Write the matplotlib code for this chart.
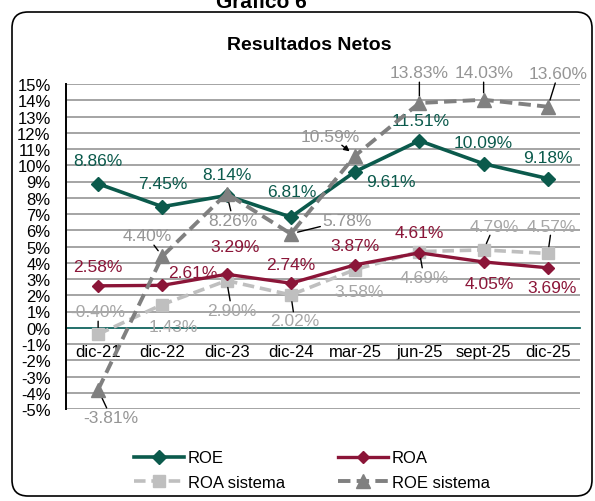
import matplotlib
matplotlib.use("Agg")
import matplotlib.pyplot as plt
import matplotlib.patches as mpatches
from matplotlib.transforms import IdentityTransform

plt.rcParams['font.family'] = ['Liberation Sans', 'DejaVu Sans']
plt.rcParams['axes.unicode_minus'] = False

# ---- data ----
categories = ["dic-21", "dic-22", "dic-23", "dic-24", "mar-25", "jun-25", "sept-25", "dic-25"]
roe = [8.86, 7.45, 8.14, 6.81, 9.61, 11.51, 10.09, 9.18]
roa = [2.58, 2.61, 3.29, 2.74, 3.87, 4.61, 4.05, 3.69]
roa_sistema = [-0.40, 1.43, 2.90, 2.02, 3.58, 4.69, 4.79, 4.57]
roe_sistema = [-3.81, 4.40, 8.26, 5.78, 10.59, 13.83, 14.03, 13.60]
y_ticks = list(range(-5, 16))
y_ticklabels = [f"{t}%" for t in y_ticks]

# ---- label placement (offsets in data units) and leader flags ----
roe_off = [(0, 1.45), (0, 1.4), (0, 1.32), (0.02, 1.6), (0.56, -0.58), (0.02, 1.27), (0, 1.34), (0, 1.32)]
roa_off = [(0, 1.22), (0.48, 0.82), (0.13, 1.68), (0, 1.18), (0, 1.22), (0, 1.28), (0.09, -1.3), (0.06, -1.24)]
roas_off = [(0, 1.37), (0.17, -1.38), (0.08, -1.81), (0.06, -1.6), (0.06, -1.32), (0.07, -1.57), (0.16, 1.47), (0.06, 1.69)]
roas_lead = [True, False, True, True, False, True, True, True]
roes_off = [(0.2, -1.69), (-0.24, 1.25), (0.1, -1.63), (0.87, 0.85), (-0.39, 1.21), (0, 1.85), (0, 1.65), (0.16, 2.03)]
roes_lead = [True, True, True, True, True, True, True, True]

c_roe = "#0b5a4c"
c_roa = "#8b1538"
c_roas = "#bfbfbf"
c_roes = "#808080"
c_roas_txt = "#a6a6a6"
c_roes_txt = "#959595"

fig = plt.figure(figsize=(5.95, 5.02), dpi=100)

# outer rounded frame
frame = mpatches.FancyBboxPatch((12, 5), 580, 484, boxstyle="round,pad=0,rounding_size=16",
                                transform=IdentityTransform(), fill=False, ec="black", lw=1.2)
fig.patches.append(frame)

fig.text(0.439, 1 - 8 / 502, "Gráfico 6", ha="center", va="baseline", fontsize=15, fontweight="bold")
fig.text(0.52, 1 - 45 / 502, "Resultados Netos", ha="center", va="center", fontsize=14, fontweight="bold")

ax = fig.add_axes([66 / 595, 1 - 410 / 502, (580 - 66) / 595, (410 - 85) / 502])
x = list(range(len(categories)))

ax.spines["bottom"].set_position(("data", 0))
ax.set_xlim(-0.5, len(categories) - 0.5)
ax.set_ylim(-5, 15)
ax.set_yticks(y_ticks)
ax.set_yticklabels(y_ticklabels)
ax.set_xticks(x)
ax.set_xticklabels(categories)
ax.tick_params(axis="both", length=0, labelsize=12)
ax.tick_params(axis="y", pad=11)
ax.tick_params(axis="x", pad=12)
ax.grid(axis="y", color="#8c8c8c", lw=1.1, zorder=0)
ax.set_axisbelow(True)
for s in ["top", "right"]:
    ax.spines[s].set_visible(False)
ax.spines["left"].set_color("black")
ax.spines["left"].set_linewidth(1.4)
ax.spines["bottom"].set_color("#1b6e68")
ax.spines["bottom"].set_linewidth(1.3)
ax.spines["bottom"].set_zorder(1.5)

l_roe, = ax.plot(x, roe, color=c_roe, lw=2.6, marker="D", ms=7.5, zorder=4, label="ROE")
l_roa, = ax.plot(x, roa, color=c_roa, lw=2.4, marker="D", ms=6, zorder=4, label="ROA")
l_roas, = ax.plot(x, roa_sistema, color=c_roas, lw=2.6, ls=(0, (3.2, 1.6)), marker="s", ms=9,
                  zorder=3, label="ROA sistema")
l_roes, = ax.plot(x, roe_sistema, color=c_roes, lw=2.8, ls=(0, (3.2, 1.6)), marker="^", ms=10,
                  zorder=5, label="ROE sistema")


def put_labels(vals, offs, color, leads=None, arrow_idx=None):
    for i, (v, (dx, dy)) in enumerate(zip(vals, offs)):
        txt = f"{v:.2f}%"
        if leads is not None and leads[i]:
            style = "-|>" if arrow_idx == i else "-"
            ax.annotate(txt, xy=(i, v), xytext=(i + dx, v + dy), ha="center", va="center",
                        fontsize=12.5, color=color, zorder=4.5,
                        bbox=dict(boxstyle="square,pad=0.1", fc="none", ec="none"),
                        arrowprops=dict(arrowstyle=style, color="black", lw=1.0,
                                        shrinkA=0, shrinkB=5, mutation_scale=8))
        else:
            ax.text(i + dx, v + dy, txt, ha="center", va="center", fontsize=12.5, color=color, zorder=4.5)


put_labels(roe, roe_off, c_roe)
put_labels(roa, roa_off, c_roa)
put_labels(roa_sistema, roas_off, c_roas_txt, roas_lead)
put_labels(roe_sistema, roes_off, c_roes_txt, roes_lead, arrow_idx=4)

handles = [l_roe, l_roas, l_roa, l_roes]
leg = fig.legend(handles=handles, labels=[h.get_label() for h in handles], ncol=2,
                 loc="center", bbox_to_anchor=(312 / 595, 1 - 471 / 502), frameon=False,
                 fontsize=12, handlelength=3.0, columnspacing=3.2, handletextpad=0.2,
                 labelspacing=0.55)

fig.savefig("out.png", dpi=100)
